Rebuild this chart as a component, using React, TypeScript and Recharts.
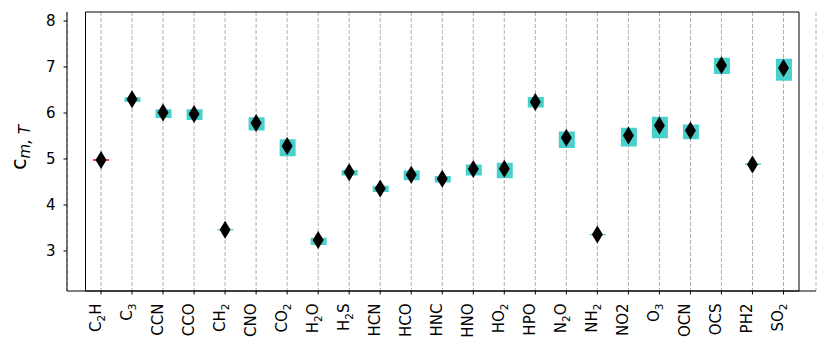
import React from 'react';
import { ComposedChart, Bar, Scatter, XAxis, YAxis, CartesianGrid, ReferenceArea } from 'recharts';

const molecules = ['C₂H', 'C₃', 'CCN', 'CCO', 'CH₂', 'CNO', 'CO₂', 'H₂O', 'H₂S', 'HCN', 'HCO', 'HNC', 'HNO', 'HO₂', 'HPO', 'N₂O', 'NH₂', 'NO2', 'O₃', 'OCN', 'OCS', 'PH2', 'SO₂'];
const means = [4.98, 6.30, 6.01, 5.98, 3.46, 5.78, 5.28, 3.24, 4.71, 4.36, 4.66, 4.57, 4.78, 4.79, 6.24, 5.46, 3.36, 5.51, 5.73, 5.62, 7.04, 4.88, 6.98];
const lowerQuartiles = [4.98, 6.24, 5.89, 5.85, 3.45, 5.62, 5.06, 3.13, 4.64, 4.28, 4.54, 4.49, 4.64, 4.58, 6.12, 5.24, 3.34, 5.27, 5.45, 5.43, 6.85, 4.87, 6.70];
const upperQuartiles = [4.98, 6.34, 6.08, 6.08, 3.48, 5.91, 5.43, 3.29, 4.76, 4.42, 4.75, 4.63, 4.88, 4.92, 6.35, 5.60, 3.37, 5.68, 5.92, 5.75, 7.20, 4.90, 7.18];
const yTicks = [3, 4, 5, 6, 7, 8];
const yDomain = [2.13, 8.196];

const data = molecules.map((name, i) => ({
  name,
  mean: means[i],
  q1: lowerQuartiles[i],
  q3: upperQuartiles[i],
  // a collapsed box only shows its (red) median line
  flat: lowerQuartiles[i] === upperQuartiles[i] ? lowerQuartiles[i] : null,
}));

const textStyle = { fontFamily: 'DejaVu Sans' };
const SUBS: Record<string, string> = { '₂': '2', '₃': '3' };

const Diamond = (props: any) => {
  const { cx, cy } = props;
  if (cx == null || cy == null) return null;
  return <path d={`M${cx},${cy - 9}L${cx + 5.5},${cy}L${cx},${cy + 9}L${cx - 5.5},${cy}Z`} fill="#000" />;
};

const MedianLine = (props: any) => {
  const { cx, cy } = props;
  if (cx == null || cy == null) return null;
  return <line x1={cx - 8} x2={cx + 8} y1={cy} y2={cy} stroke="#ff0000" strokeWidth={1.5} />;
};

// unicode subscripts -> smaller, lowered tspans (like mathtext)
const formula = (label: string) => {
  const parts: React.ReactNode[] = [];
  let shifted = false;
  Array.from(label).forEach((ch, i) => {
    if (SUBS[ch]) {
      parts.push(<tspan key={i} fontSize={10.5} dy={3.5}>{SUBS[ch]}</tspan>);
      shifted = true;
    } else {
      parts.push(<tspan key={i} dy={shifted ? -3.5 : 0}>{ch}</tspan>);
      shifted = false;
    }
  });
  return parts;
};

const XTick = (props: any) => {
  const { x, y, payload } = props;
  const ty = y + 7;
  return (
    <text
      x={x}
      y={ty}
      transform={`rotate(-90, ${x}, ${ty})`}
      textAnchor="end"
      fontSize={15}
      style={textStyle}
      fill="#000"
    >
      <tspan dy={5.4}>{''}</tspan>
      {formula(payload.value)}
    </text>
  );
};

const YTick = (props: any) => {
  const { x, y, payload } = props;
  return (
    <text x={x} y={y} dy="0.36em" textAnchor="end" fontSize={15} style={textStyle} fill="#000">
      {payload.value}
    </text>
  );
};

const YLabel = (props: any) => {
  const { viewBox } = props;
  const x = 18;
  const y = viewBox.y + viewBox.height / 2 - 4;
  return (
    <text x={x} y={y} transform={`rotate(-90, ${x}, ${y})`} textAnchor="middle" style={textStyle} fill="#000">
      <tspan fontSize={21}>c</tspan>
      <tspan fontSize={15} fontStyle="italic" dy={4}>m, T</tspan>
    </text>
  );
};

export default function App() {
  return (
    <ComposedChart width={814} height={338} data={data} margin={{ top: 4, right: 6, bottom: 0, left: 0 }}>
      <CartesianGrid vertical horizontal={false} stroke="#b0b0b0" strokeDasharray="4 2" />
      <XAxis
        dataKey="name"
        height={55}
        interval={0}
        padding={{ left: 18.5, right: 17 }}
        axisLine={{ stroke: '#000' }}
        tickLine={{ stroke: '#000' }}
        tickSize={3.5}
        tick={<XTick />}
      />
      <YAxis
        type="number"
        domain={yDomain}
        ticks={yTicks}
        allowDataOverflow
        width={59}
        axisLine={{ stroke: '#000' }}
        tickLine={{ stroke: '#000' }}
        tickSize={3.5}
        tickMargin={8}
        tick={<YTick />}
        label={<YLabel />}
      />
      <Bar dataKey={(d: any) => [d.q1, d.q3]} barSize={16} fill="#48d1cc" isAnimationActive={false} />
      <Scatter dataKey="flat" shape={<MedianLine />} isAnimationActive={false} />
      <Scatter dataKey="mean" shape={<Diamond />} isAnimationActive={false} />
      <ReferenceArea y1={yDomain[0]} y2={yDomain[1]} fill="none" fillOpacity={0} stroke="#000" strokeWidth={1} ifOverflow="visible" />
    </ComposedChart>
  );
}
